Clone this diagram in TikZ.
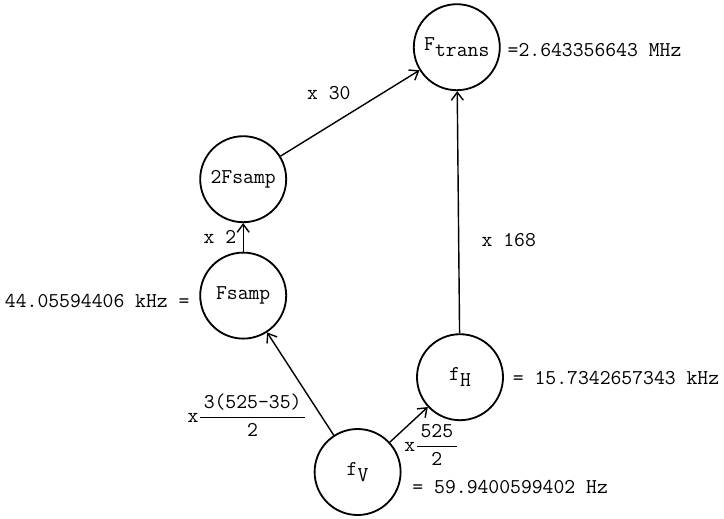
\documentclass[tikz,border=0pt]{standalone}
\usetikzlibrary{arrows.meta, positioning}
\newcommand{\tyfont}{\fontsize{15}{18}\selectfont\ttfamily}
\newcommand{\lowsub}[1]{\raisebox{-0.6ex}{#1}}
\newcommand{\tyfrac}[2]{$\displaystyle\frac{\mbox{\tyfont\,#1\,}}{\mbox{\tyfont #2}}$}
\tikzset{
  freq/.style = {draw, circle, line width=1.3pt, minimum size=2.15cm,
                 inner sep=0pt, font=\tyfont},
  val/.style  = {font=\tyfont, inner sep=1pt},
  mult/.style = {-{Straight Barb[length=2mm, width=3mm]}, line width=1pt},
}

\begin{document}
\begin{tikzpicture}
    \useasboundingbox (0,0) rectangle (18.1,-12.95);

    % --- frequencies ---
    \node[freq] (ftrans) at (11.42,-1.18) {F\lowsub{trans}};
    \node[freq] (twofsamp) at (6.08,-4.48) {2Fsamp};
    \node[freq] (fsamp) at (6.08,-7.39) {Fsamp};
    \node[freq] (fh) at (11.5,-9.43) {f\lowsub{H}};
    \node[freq] (fv) at (8.94,-11.8) {f\lowsub{V}};

    % --- values ---
    \node[val, anchor=west] (vtrans) at (12.65,-1.25) {=2.643356643 MHz};
    \node[val, anchor=east] (vsamp) at (4.78,-7.52) {44.05594406 kHz =};
    \node[val, anchor=west] (vh) at (12.78,-9.45) {= 15.7342657343 kHz};
    \node[val, anchor=west] (vv) at (10.27,-12.18) {= 59.9400599402 Hz};

    % --- multipliers ---
    \draw[mult] (fv) -- (fsamp);
    \draw[mult] (fv) -- (fh);
    \draw[mult] (fsamp) -- (twofsamp);
    \draw[mult] (twofsamp) -- (ftrans);
    \draw[mult] (fh) -- (ftrans);

    \node[val] (m30) at (8.22,-2.33) {x 30};
    \node[val] (m2) at (5.5,-5.93) {x 2};
    \node[val] (m168) at (12.72,-6.0) {x 168};
    \node[val, anchor=west] (mv) at (4.65,-10.38) {x\tyfrac{3(525-35)}{2}};
    \node[val, anchor=west] (mh) at (10.07,-11.12) {x\tyfrac{525}{2}};
\end{tikzpicture}
\end{document}
